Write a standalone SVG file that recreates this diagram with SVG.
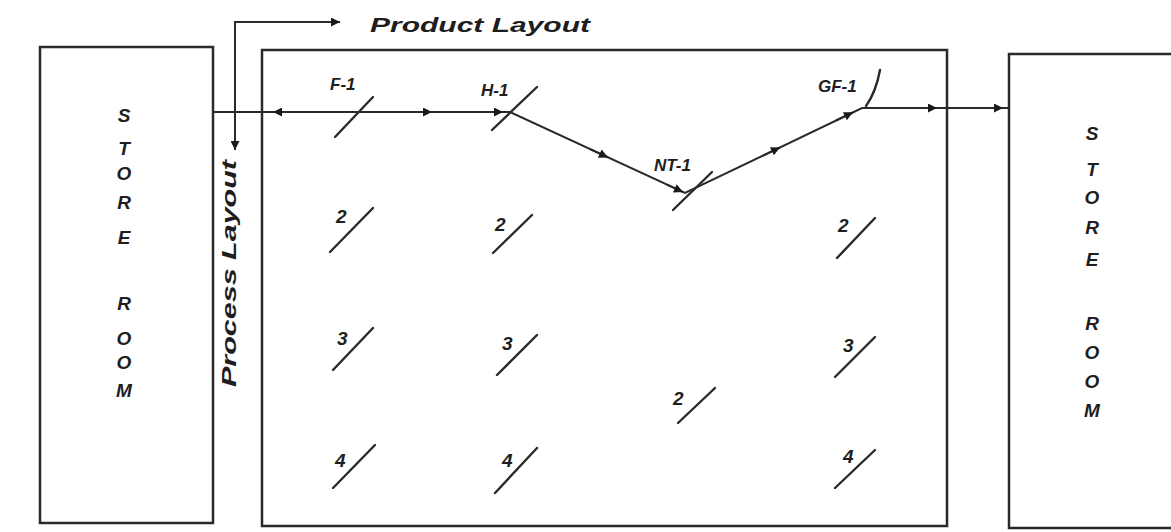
<svg xmlns="http://www.w3.org/2000/svg" width="1171" height="532" viewBox="0 0 1171 532">
<style>
.box{fill:none;stroke:#2a2a2a;stroke-width:2.5}
.ln{fill:none;stroke:#2a2a2a;stroke-width:2}
.sl{fill:none;stroke:#2a2a2a;stroke-width:2.4;stroke-linecap:round}
.t{font-family:"Liberation Sans",Arial,sans-serif;font-style:italic;font-weight:bold;fill:#1e1e1e}
.lbl{font-size:17px}
.num{font-size:19px}
.room{font-size:19px;text-anchor:middle}
.big{font-size:20px}
</style>
<defs>
<marker id="ah" viewBox="0 0 10 10" refX="10" refY="5" markerWidth="18" markerHeight="9" markerUnits="userSpaceOnUse" orient="auto">
<path d="M0,0 L10,5 L0,10 z" fill="#1a1a1a"/>
</marker>
</defs>
<rect width="1171" height="532" fill="#ffffff"/>

<g id="store-room-left">
<rect class="box" x="40" y="47" width="173" height="476"/>
<text class="t room" x="124" y="122">S</text>
<text class="t room" x="124" y="155">T</text>
<text class="t room" x="124" y="180">O</text>
<text class="t room" x="124" y="209">R</text>
<text class="t room" x="124" y="244">E</text>
<text class="t room" x="124" y="310">R</text>
<text class="t room" x="124" y="345">O</text>
<text class="t room" x="124" y="369">O</text>
<text class="t room" x="124" y="397">M</text>
</g>

<g id="shop-floor">
<rect class="box" x="262" y="50" width="685" height="476"/>
</g>

<g id="store-room-right">
<path class="box" d="M1171,54 H1009 V528 H1171"/>
<text class="t room" x="1092" y="140">S</text>
<text class="t room" x="1092" y="176">T</text>
<text class="t room" x="1092" y="204">O</text>
<text class="t room" x="1092" y="234">R</text>
<text class="t room" x="1092" y="266">E</text>
<text class="t room" x="1092" y="330">R</text>
<text class="t room" x="1092" y="359">O</text>
<text class="t room" x="1092" y="388">O</text>
<text class="t room" x="1092" y="417">M</text>
</g>

<g id="layout-labels">
<text class="t big" x="370" y="32" textLength="220" lengthAdjust="spacingAndGlyphs">Product Layout</text>
<text class="t big" transform="translate(236,387) rotate(-90)" x="0" y="0" textLength="227" lengthAdjust="spacingAndGlyphs">Process Layout</text>
</g>

<g id="connectors">
<path class="ln" d="M235,150 V22 H340"/>
<path class="ln" d="M212,112 H510 L685,193 L862,108 H1009"/>
<path class="ln" marker-end="url(#ah)" d="M320,22 H340"/>
<path class="ln" marker-end="url(#ah)" d="M235,128 V150"/>
<path class="ln" marker-end="url(#ah)" d="M292,112 H273"/>
<path class="ln" marker-end="url(#ah)" d="M415,112 H432"/>
<path class="ln" marker-end="url(#ah)" d="M487,112 H503"/>
<path class="ln" marker-end="url(#ah)" d="M590,149.1 L608,157.4"/>
<path class="ln" marker-end="url(#ah)" d="M667,184.7 L683,192.1"/>
<path class="ln" marker-end="url(#ah)" d="M763,155.6 L780,147.4"/>
<path class="ln" marker-end="url(#ah)" d="M836,120.5 L853,112.3"/>
<path class="ln" marker-end="url(#ah)" d="M918,108 H937"/>
<path class="ln" marker-end="url(#ah)" d="M985,108 H1003"/>
</g>

<g id="F-1"><text class="t lbl" x="330" y="90">F-1</text><line class="sl" x1="335" y1="137" x2="373" y2="97"/></g>
<g id="F-2"><text class="t num" x="336" y="223">2</text><line class="sl" x1="330" y1="252" x2="373" y2="208"/></g>
<g id="F-3"><text class="t num" x="337" y="345">3</text><line class="sl" x1="333" y1="370" x2="373" y2="328"/></g>
<g id="F-4"><text class="t num" x="335" y="467">4</text><line class="sl" x1="333" y1="488" x2="375" y2="445"/></g>

<g id="H-1"><text class="t lbl" x="481" y="96">H-1</text><line class="sl" x1="492" y1="130" x2="537" y2="87"/></g>
<g id="H-2"><text class="t num" x="495" y="231">2</text><line class="sl" x1="493" y1="253" x2="532" y2="215"/></g>
<g id="H-3"><text class="t num" x="502" y="350">3</text><line class="sl" x1="497" y1="375" x2="537" y2="335"/></g>
<g id="H-4"><text class="t num" x="502" y="467">4</text><line class="sl" x1="495" y1="493" x2="537" y2="448"/></g>

<g id="NT-1"><text class="t lbl" x="654" y="171">NT-1</text><line class="sl" x1="673" y1="210" x2="712" y2="172"/></g>
<g id="NT-2"><text class="t num" x="673" y="405">2</text><line class="sl" x1="678" y1="423" x2="715" y2="388"/></g>

<g id="GF-1"><text class="t lbl" x="818" y="92">GF-1</text><path class="sl" d="M866,106 Q876,92 880,70"/></g>
<g id="GF-2"><text class="t num" x="838" y="232">2</text><line class="sl" x1="837" y1="258" x2="875" y2="218"/></g>
<g id="GF-3"><text class="t num" x="843" y="352">3</text><line class="sl" x1="835" y1="377" x2="875" y2="337"/></g>
<g id="GF-4"><text class="t num" x="843" y="463">4</text><line class="sl" x1="835" y1="488" x2="875" y2="450"/></g>
</svg>
